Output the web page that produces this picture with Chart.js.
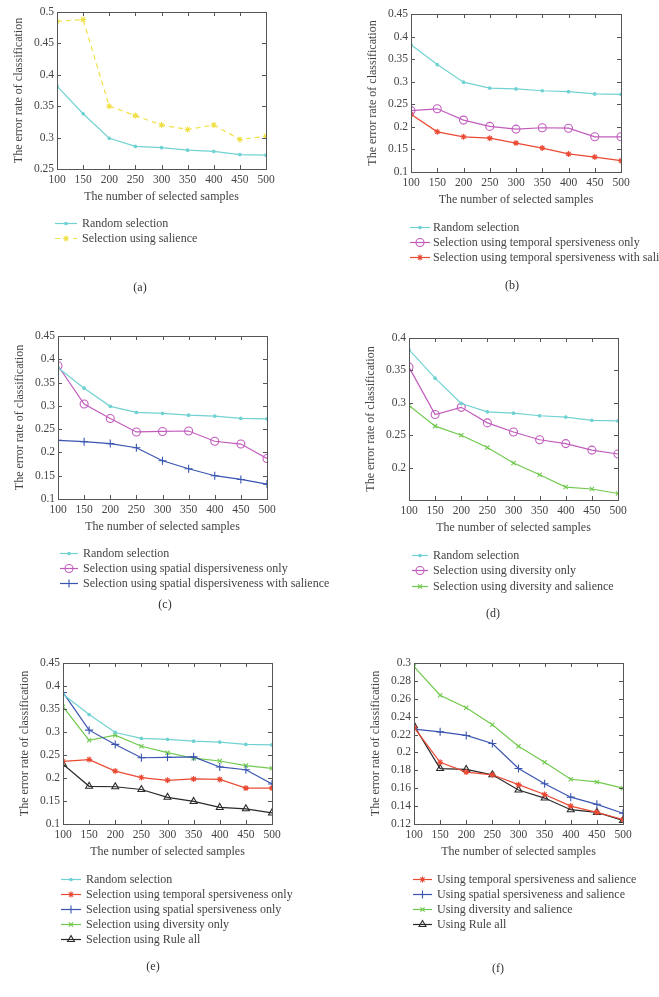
<!DOCTYPE html>
<html lang="en">
<head>
  <meta charset="UTF-8" />
  <title>Error rate vs number of selected samples</title>
  <script src="https://cdn.jsdelivr.net/npm/chart.js"></script>
  <style>
    body {
      margin: 0;
      background: #fff;
      font-family: "Liberation Serif", "DejaVu Serif", serif;
    }
    .page {
      position: relative;
      width: 659px;
      height: 997px;
      overflow: hidden;
    }
    canvas {
      position: absolute;
    }
    .tag {
      position: absolute;
      font-size: 12px;
      color: #333;
      transform: translate(-50%, -50%);
    }
  </style>
</head>
<body>
  <div class="page">
    <canvas id="chartA" width="330" height="315" style="left:0;top:0"></canvas>
    <canvas id="chartB" width="329" height="315" style="left:330px;top:0"></canvas>
    <canvas id="chartC" width="330" height="320" style="left:0;top:315px"></canvas>
    <canvas id="chartD" width="329" height="320" style="left:330px;top:315px"></canvas>
    <canvas id="chartE" width="330" height="362" style="left:0;top:635px"></canvas>
    <canvas id="chartF" width="329" height="362" style="left:330px;top:635px"></canvas>

    <div class="tag" style="left:140px;top:287px">(a)</div>
    <div class="tag" style="left:512px;top:285px">(b)</div>
    <div class="tag" style="left:165px;top:604px">(c)</div>
    <div class="tag" style="left:493px;top:613px">(d)</div>
    <div class="tag" style="left:153px;top:966px">(e)</div>
    <div class="tag" style="left:498px;top:968px">(f)</div>
  </div>

  <script>
    // Data
    const samples = [100, 150, 200, 250, 300, 350, 400, 450, 500];
    const randomSel = [0.382, 0.338, 0.299, 0.286, 0.284, 0.280, 0.278, 0.273, 0.272];
    const salienceSel = [0.485, 0.488, 0.350, 0.335, 0.320, 0.313, 0.320, 0.297, 0.302];
    const temporalOnly = [0.236, 0.240, 0.215, 0.201, 0.195, 0.198, 0.197, 0.178, 0.178];
    const temporalSal = [0.228, 0.189, 0.178, 0.175, 0.164, 0.153, 0.140, 0.133, 0.125];
    const spatialOnly = [0.386, 0.304, 0.273, 0.244, 0.245, 0.246, 0.224, 0.218, 0.187];
    const spatialSal = [0.226, 0.223, 0.219, 0.210, 0.182, 0.165, 0.150, 0.142, 0.132];
    const diversityOnly = [0.355, 0.282, 0.293, 0.269, 0.255, 0.243, 0.237, 0.227, 0.221];
    const diversitySal = [0.296, 0.264, 0.250, 0.231, 0.207, 0.189, 0.170, 0.167, 0.160];
    const ruleAll = [0.230, 0.182, 0.181, 0.175, 0.158, 0.149, 0.136, 0.133, 0.124];

    // y axis [min, max, step] for each panel
    const yRangeA = [0.25, 0.5, 0.05];
    const yRangeB = [0.1, 0.45, 0.05];
    const yRangeC = [0.1, 0.45, 0.05];
    const yRangeD = [0.15, 0.4, 0.05];
    const yRangeE = [0.1, 0.45, 0.05];
    const yRangeF = [0.12, 0.3, 0.02];

    const FONT = '"Liberation Serif", "DejaVu Serif", serif';
    const TEXT = '#444';

    const st = {
      cyan:    { color: '#72d2d2', point: 'circle',   r: 1.3, fill: true },
      yellow:  { color: '#f0e048', point: 'star',     r: 3,   fill: true, dash: [5, 4] },
      magenta: { color: '#c15cbd', point: 'circle',   r: 4,   fill: false },
      red:     { color: '#ea4a34', point: 'star',     r: 3,   fill: true },
      blue:    { color: '#3a55b0', point: 'cross',    r: 4,   fill: false },
      green:   { color: '#72c94f', point: 'crossRot', r: 3,   fill: false },
      black:   { color: '#2a2a2a', point: 'triangle', r: 4,   fill: false }
    };

    function line(label, values, s) {
      return {
        label: label,
        data: samples.map((x, i) => ({ x: x, y: values[i] })),
        borderColor: s.color,
        backgroundColor: s.fill ? s.color : 'rgba(255,255,255,0)',
        borderWidth: 1.2,
        borderDash: s.dash || [],
        pointStyle: s.point,
        pointRadius: s.r,
        pointBorderWidth: 1.1,
        tension: 0,
        sk: s
      };
    }

    // inner tick marks + box frame, MATLAB style
    const frame = {
      id: 'frame',
      afterDraw(chart) {
        const { ctx, chartArea: a, scales } = chart;
        ctx.save();
        ctx.strokeStyle = '#555';
        ctx.lineWidth = 1;
        ctx.beginPath();
        scales.x.ticks.forEach(t => {
          const px = Math.round(scales.x.getPixelForValue(t.value)) + 0.5;
          ctx.moveTo(px, a.bottom); ctx.lineTo(px, a.bottom - 4);
          ctx.moveTo(px, a.top); ctx.lineTo(px, a.top + 4);
        });
        scales.y.ticks.forEach(t => {
          const py = Math.round(scales.y.getPixelForValue(t.value)) + 0.5;
          ctx.moveTo(a.left, py); ctx.lineTo(a.left + 4, py);
          ctx.moveTo(a.right, py); ctx.lineTo(a.right - 4, py);
        });
        ctx.stroke();
        ctx.strokeRect(Math.round(a.left) + 0.5, Math.round(a.top) + 0.5,
          Math.round(a.right - a.left), Math.round(a.bottom - a.top));
        ctx.restore();
      }
    };

    // legend drawn under the axes: short line with marker, then label
    const sketchLegend = {
      id: 'sketchLegend',
      afterDraw(chart, args, opts) {
        const ctx = chart.ctx;
        const draw = Chart.helpers && Chart.helpers.drawPoint;
        ctx.save();
        chart.data.datasets.forEach((ds, i) => {
          const y = opts.rows[i] + 0.5;
          const s = ds.sk;
          ctx.strokeStyle = s.color;
          ctx.lineWidth = 1.2;
          ctx.setLineDash(s.dash || []);
          ctx.beginPath();
          ctx.moveTo(opts.x1, y);
          ctx.lineTo(opts.x2, y);
          ctx.stroke();
          ctx.setLineDash([]);
          if (draw) {
            ctx.fillStyle = s.fill ? s.color : 'rgba(255,255,255,0)';
            ctx.lineWidth = 1.1;
            draw(ctx, { pointStyle: s.point, rotation: 0, radius: s.r, borderWidth: 1.1 },
              (opts.x1 + opts.x2) / 2, y);
          }
          ctx.fillStyle = TEXT;
          ctx.font = '12px ' + FONT;
          ctx.textBaseline = 'middle';
          ctx.fillText(ds.label, opts.tx, y);
        });
        ctx.restore();
      }
    };

    function makeChart(id, box, plot, yr, datasets, legend) {
      new Chart(document.getElementById(id), {
        type: 'line',
        data: { datasets: datasets },
        options: {
          responsive: false,
          animation: false,
          layout: {
            padding: {
              left: plot.L - box.x - 45,
              top: plot.T - box.y,
              right: box.x + box.w - plot.R,
              bottom: box.y + box.h - plot.B - 35
            }
          },
          scales: {
            x: {
              type: 'linear',
              min: 100,
              max: 500,
              grid: { display: false, drawTicks: false },
              border: { display: false },
              ticks: {
                stepSize: 50,
                autoSkip: false,
                maxRotation: 0,
                padding: 4,
                color: TEXT,
                font: { family: FONT, size: 11.5 }
              },
              title: {
                display: true,
                text: 'The number of selected samples',
                color: TEXT,
                padding: 0,
                font: { family: FONT, size: 12 }
              },
              afterFit: s => { s.height = 35; }
            },
            y: {
              min: yr[0],
              max: yr[1],
              grid: { display: false, drawTicks: false },
              border: { display: false },
              ticks: {
                stepSize: yr[2],
                padding: 3,
                color: TEXT,
                font: { family: FONT, size: 11.5 },
                callback: v => (id === 'chartD' && v < 0.16) ? '' : String(Number(v.toFixed(2)))
              },
              title: {
                display: true,
                text: 'The error rate of classification',
                color: TEXT,
                padding: 0,
                font: { family: FONT, size: 12 }
              },
              afterFit: s => { s.width = 45; }
            }
          },
          plugins: {
            legend: { display: false },
            tooltip: { enabled: false },
            sketchLegend: {
              x1: legend.x1 - box.x,
              x2: legend.x2 - box.x,
              tx: legend.tx - box.x,
              rows: legend.rows.map(r => r - box.y)
            }
          }
        },
        plugins: [frame, sketchLegend]
      });
    }

    makeChart('chartA', { x: 0, y: 0, w: 330, h: 315 }, { L: 57, T: 12, R: 266, B: 169 }, yRangeA, [
      line('Random selection', randomSel, st.cyan),
      line('Selection using salience', salienceSel, st.yellow)
    ], { x1: 55, x2: 77, tx: 82, rows: [223, 238] });

    makeChart('chartB', { x: 330, y: 0, w: 329, h: 315 }, { L: 411, T: 14, R: 621, B: 172 }, yRangeB, [
      line('Random selection', randomSel, st.cyan),
      line('Selection using temporal spersiveness only', temporalOnly, st.magenta),
      line('Selection using temporal spersiveness with salience', temporalSal, st.red)
    ], { x1: 410, x2: 430, tx: 433, rows: [227, 242, 257] });

    makeChart('chartC', { x: 0, y: 315, w: 330, h: 320 }, { L: 58, T: 336, R: 267, B: 499 }, yRangeC, [
      line('Random selection', randomSel, st.cyan),
      line('Selection using spatial dispersiveness only', spatialOnly, st.magenta),
      line('Selection using spatial dispersiveness with salience', spatialSal, st.blue)
    ], { x1: 60, x2: 78, tx: 83, rows: [553, 568, 583] });

    makeChart('chartD', { x: 330, y: 315, w: 329, h: 320 }, { L: 409, T: 338, R: 618, B: 500 }, yRangeD, [
      line('Random selection', randomSel, st.cyan),
      line('Selection using diversity only', diversityOnly, st.magenta),
      line('Selection using diversity and salience', diversitySal, st.green)
    ], { x1: 412, x2: 428, tx: 433, rows: [555, 570, 586] });

    makeChart('chartE', { x: 0, y: 635, w: 330, h: 362 }, { L: 63, T: 663, R: 272, B: 824 }, yRangeE, [
      line('Random selection', randomSel, st.cyan),
      line('Selection using temporal spersiveness only', temporalOnly, st.red),
      line('Selection using spatial spersiveness only', spatialOnly, st.blue),
      line('Selection using diversity only', diversityOnly, st.green),
      line('Selection using Rule all', ruleAll, st.black)
    ], { x1: 61, x2: 81, tx: 86, rows: [879, 894, 909, 924, 939] });

    makeChart('chartF', { x: 330, y: 635, w: 329, h: 362 }, { L: 414, T: 663, R: 623, B: 824 }, yRangeF, [
      line('Using temporal spersiveness and salience', temporalSal, st.red),
      line('Using spatial spersiveness and salience', spatialSal, st.blue),
      line('Using diversity and salience', diversitySal, st.green),
      line('Using Rule all', ruleAll, st.black)
    ], { x1: 413, x2: 432, tx: 437, rows: [879, 894, 909, 924] });
  </script>
</body>
</html>
